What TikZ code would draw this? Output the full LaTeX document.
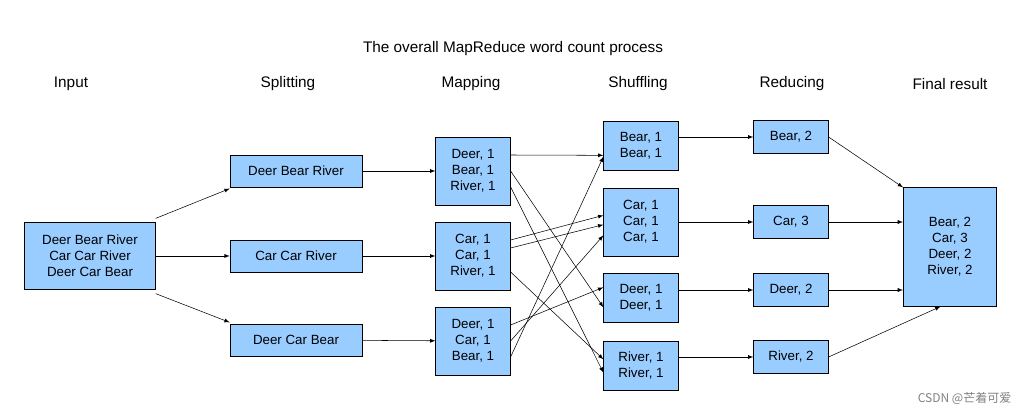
\documentclass[tikz,border=0pt]{standalone}
\usepackage{fontspec}
\setmainfont{Liberation Sans}
\newfontfamily\cjk{Noto Sans CJK SC}
\usetikzlibrary{arrows, positioning}
\definecolor{boxblue}{HTML}{99CCFF}
\begin{document}
\begin{tikzpicture}[
        x=0.75pt, y=-0.75pt,
        >=latex,
        font=\fontsize{10}{12}\selectfont,
        box/.style={rectangle, draw, fill=boxblue, align=center, inner sep=2pt, line width=0.4pt},
        head/.style={font=\fontsize{11.5}{13}\selectfont},
        line/.style={draw, ->, line width=0.4pt}
    ]
        \useasboundingbox (0,0) rectangle (1029,416);
        % Headers
        \node [head] (title) at (513,49) {The overall MapReduce word count process};
        \node [head] (h_in) at (71,84) {Input};
        \node [head] (h_split) at (288,84) {Splitting};
        \node [head] (h_map) at (471,84) {Mapping};
        \node [head] (h_shuf) at (638,84) {Shuffling};
        \node [head] (h_red) at (792,84) {Reducing};
        \node [head] (h_fin) at (950,84) {Final result};

        % Nodes
        \node [box, minimum width=98pt, minimum height=50pt] (input) at (90,256) {Deer Bear River\\Car Car River\\Deer Car Bear};
        \node [box, minimum width=99pt, minimum height=24pt] (s1) at (296,171) {Deer Bear River};
        \node [box, minimum width=99pt, minimum height=24pt] (s2) at (296,256) {Car Car River};
        \node [box, minimum width=99pt, minimum height=24pt] (s3) at (296,340) {Deer Car Bear};
        \node [box, minimum width=56pt, minimum height=51pt] (m1) at (473,171) {Deer, 1\\Bear, 1\\River, 1};
        \node [box, minimum width=56pt, minimum height=51pt] (m2) at (473,256) {Car, 1\\Car, 1\\River, 1};
        \node [box, minimum width=56pt, minimum height=51pt] (m3) at (473,341) {Deer, 1\\Car, 1\\Bear, 1};
        \node [box, minimum width=56pt, minimum height=37pt] (sh1) at (641,146) {Bear, 1\\Bear, 1};
        \node [box, minimum width=56pt, minimum height=51pt] (sh2) at (641,222) {Car, 1\\Car, 1\\Car, 1};
        \node [box, minimum width=56pt, minimum height=37pt] (sh3) at (641,298) {Deer, 1\\Deer, 1};
        \node [box, minimum width=56pt, minimum height=37pt] (sh4) at (641,366) {River, 1\\River, 1};
        \node [box, minimum width=56pt, minimum height=25pt] (r1) at (791,137) {Bear, 2};
        \node [box, minimum width=56pt, minimum height=25pt] (r2) at (791,222) {Car, 3};
        \node [box, minimum width=56pt, minimum height=25pt] (r3) at (791,290) {Deer, 2};
        \node [box, minimum width=56pt, minimum height=25pt] (r4) at (791,357) {River, 2};
        \node [box, minimum width=70pt, minimum height=89pt] (final) at (950,247) {Bear, 2\\Car, 3\\Deer, 2\\River, 2};

        % Paths
        \path [line] ([yshift=3pt]input.north east) -- ([yshift=-1pt]s1.south west);
        \path [line] (input.east) -- (s2.west);
        \path [line] ([yshift=-3pt]input.south east) -- ([yshift=1pt]s3.north west);
        \path [line] (s1) -- (m1);
        \path [line] (s2) -- (m2);
        \path [line] (s3) -- (m3);
        \path [line] ([yshift=12pt]m1.east) -- ([yshift=-7pt]sh1.west);
        \path [line] ([yshift=0pt]m1.east) -- ([yshift=-7pt]sh3.west);
        \path [line] ([yshift=-12pt]m1.east) -- ([yshift=-5pt]sh4.west);
        \path [line] ([yshift=12pt]m2.east) -- ([yshift=5pt]sh2.west);
        \path [line] ([yshift=6pt]m2.east) -- ([yshift=-2pt]sh2.west);
        \path [line] ([yshift=-12pt]m2.east) -- ([yshift=5pt]sh4.west);
        \path [line] ([yshift=12pt]m3.east) -- ([yshift=8pt]sh3.west);
        \path [line] ([yshift=0pt]m3.east) -- ([yshift=-10pt]sh2.west);
        \path [line] ([yshift=-12pt]m3.east) -- ([yshift=-8pt]sh1.west);
        \path [line] (sh1.east |- r1) -- (r1);
        \path [line] (sh2) -- (r2);
        \path [line] (sh3.east |- r3) -- (r3);
        \path [line] (sh4.east |- r4) -- (r4);
        \path [line] (r1.east) -- (final.north west);
        \path [line] (r2.east) -- (final.west |- r2);
        \path [line] (r3.east) -- (final.west |- r3);
        \path [line] (r4.east) -- ([xshift=28pt]final.south west);

        % Watermark
        \node [text=gray, font=\fontsize{9}{11}\cjk, anchor=east] (mark) at (1016,398) {CSDN @芒着可爱};
    \end{tikzpicture}
\end{document}
